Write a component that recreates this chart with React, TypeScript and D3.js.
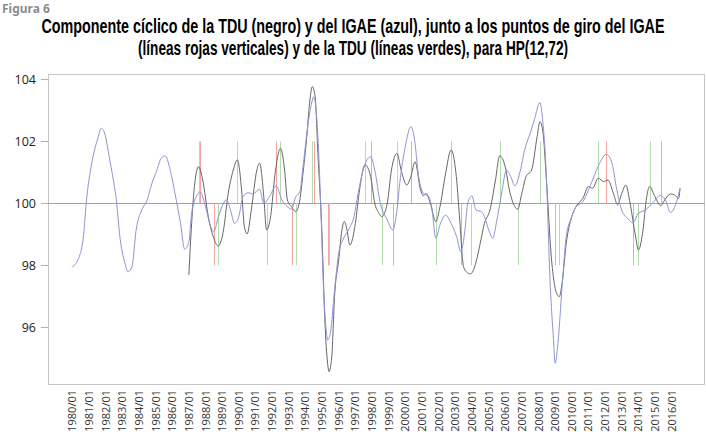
import React, { useEffect, useRef } from "react";
import * as d3 from "d3";

// IGAE cyclical component (blue)
const igaeDates: string[] = [
  "1980-01", "1980-05", "1980-09", "1980-11", "1981-03", "1981-07", "1981-10", "1981-12",
  "1982-04", "1982-06", "1982-09", "1982-11", "1983-03", "1983-05", "1983-08", "1983-11",
  "1984-03", "1984-07", "1984-10", "1985-02", "1985-05", "1985-08", "1985-11", "1986-03",
  "1986-07", "1986-10", "1987-01", "1987-03", "1987-07", "1987-09", "1988-01", "1988-04",
  "1988-07", "1988-10", "1989-02", "1989-04", "1989-07", "1989-10", "1990-01", "1990-04",
  "1990-08", "1990-11", "1991-04", "1991-07", "1991-11", "1992-04", "1992-08", "1992-12",
  "1993-03", "1993-06", "1993-09", "1993-11", "1994-03", "1994-06", "1994-07", "1994-10",
  "1994-12", "1995-02", "1995-04", "1995-05", "1995-07", "1995-10", "1996-01", "1996-04",
  "1996-08", "1996-12", "1997-03", "1997-07", "1997-12", "1998-03", "1998-07", "1998-12",
  "1999-04", "1999-07", "1999-09", "2000-01", "2000-05", "2000-08", "2000-10", "2001-02",
  "2001-06", "2001-08", "2001-11", "2002-02", "2002-06", "2002-10", "2003-02", "2003-05",
  "2003-08", "2003-10", "2004-01", "2004-04", "2004-08", "2004-10", "2005-02", "2005-04",
  "2005-07", "2005-10", "2006-02", "2006-05", "2006-08", "2006-12", "2007-03", "2007-07",
  "2007-10", "2008-02", "2008-04", "2008-07", "2008-09", "2008-12", "2009-01", "2009-03",
  "2009-06", "2009-09", "2010-01", "2010-04", "2010-09", "2011-01", "2011-04", "2011-09",
  "2012-02", "2012-06", "2012-09", "2013-01", "2013-05", "2013-09", "2014-01", "2014-06",
  "2014-11", "2015-05", "2015-09", "2015-12", "2016-04", "2016-07",
];
const igaeValues: number[] = [
  97.95, 98.17, 98.92, 100.0, 101.29, 102.04, 102.42, 102.3,
  101.4, 100.9, 100.0, 99.03, 98.06, 97.79, 97.95, 99.14,
  99.78, 100.11, 100.59, 101.07, 101.45, 101.53, 101.18, 100.32,
  99.35, 98.52, 98.75, 99.68, 100.27, 100.37, 99.89, 99.35,
  99.08, 99.52, 100.0, 100.11, 99.78, 99.35, 99.57, 100.21,
  100.34, 100.3, 100.45, 100.0, 100.21, 100.56, 100.11, 99.89,
  99.81, 100.21, 100.37, 101.07, 102.58, 103.33, 103.44, 102.15,
  100.0, 97.31, 95.91, 95.59, 95.81, 97.2, 98.39, 98.82,
  99.14, 99.57, 100.32, 101.13, 101.5, 101.07, 100.0, 99.46,
  99.14, 99.78, 100.65, 101.83, 102.47, 101.94, 101.07, 100.32,
  100.21, 99.89, 98.87, 99.3, 99.62, 99.35, 98.92, 98.44,
  99.14, 100.0, 100.24, 99.78, 99.73, 99.57, 99.03, 98.87,
  99.46, 100.21, 101.07, 100.86, 100.56, 101.07, 101.72, 102.26,
  102.69, 103.25, 102.69, 100.54, 97.85, 95.48, 94.84, 95.48,
  97.31, 98.92, 99.57, 99.89, 100.05, 100.43, 100.75, 101.29,
  101.58, 101.29, 100.54, 99.78, 99.52, 99.37, 99.68, 99.78,
  100.0, 100.25, 100.05, 99.7, 99.98, 100.48,
];

// TDU cyclical component (black)
const tduDates: string[] = [
  "1987-01", "1987-03", "1987-05", "1987-08", "1987-11", "1988-03", "1988-07", "1988-10",
  "1989-02", "1989-05", "1989-09", "1989-12", "1990-03", "1990-05", "1990-07", "1990-10",
  "1991-02", "1991-04", "1991-07", "1991-09", "1991-12", "1992-03", "1992-07", "1992-10",
  "1992-12", "1993-03", "1993-06", "1993-09", "1993-11", "1994-02", "1994-04", "1994-06",
  "1994-08", "1994-10", "1995-01", "1995-03", "1995-05", "1995-06", "1995-08", "1995-10",
  "1996-01", "1996-03", "1996-05", "1996-07", "1996-09", "1997-01", "1997-04", "1997-08",
  "1997-12", "1998-03", "1998-06", "1998-08", "1998-12", "1999-03", "1999-07", "1999-10",
  "2000-02", "2000-05", "2000-08", "2000-12", "2001-02", "2001-04", "2001-07", "2001-11",
  "2002-02", "2002-06", "2002-10", "2003-02", "2003-04", "2003-07", "2003-09", "2003-12",
  "2004-03", "2004-07", "2004-10", "2005-02", "2005-06", "2005-09", "2006-01", "2006-04",
  "2006-08", "2006-10", "2007-01", "2007-04", "2007-08", "2007-12", "2008-02", "2008-04",
  "2008-07", "2008-10", "2009-02", "2009-04", "2009-06", "2009-09", "2010-01", "2010-04",
  "2010-09", "2011-01", "2011-04", "2011-08", "2011-12", "2012-03", "2012-07", "2012-10",
  "2013-01", "2013-04", "2013-07", "2013-11", "2014-01", "2014-04", "2014-07", "2014-09",
  "2015-01", "2015-05", "2015-08", "2015-12", "2016-03", "2016-06", "2016-07",
];
const tduValues: number[] = [
  97.69, 99.35, 100.54, 101.18, 100.75, 99.57, 98.87, 98.62,
  99.14, 100.21, 101.07, 101.4, 100.43, 99.25, 99.01, 99.78,
  101.07, 101.29, 100.21, 99.14, 99.6, 100.9, 101.77, 101.07,
  100.11, 99.89, 99.73, 100.11, 100.86, 102.15, 103.23, 103.76,
  103.44, 101.61, 98.92, 96.24, 94.84, 94.57, 95.05, 96.99,
  98.17, 99.03, 99.41, 99.14, 98.65, 99.35, 100.43, 101.24,
  100.86, 100.0, 99.68, 99.57, 100.0, 101.07, 101.61, 101.07,
  100.59, 100.86, 101.34, 100.43, 100.24, 100.32, 100.0, 99.41,
  99.89, 100.95, 101.72, 100.75, 99.6, 97.95, 97.79, 97.72,
  97.95, 98.71, 99.35, 99.78, 100.75, 101.53, 101.18, 100.43,
  99.89, 99.81, 100.32, 100.86, 101.07, 102.15, 102.63, 102.36,
  100.54, 98.39, 97.1, 96.99, 97.42, 98.71, 99.57, 99.89,
  100.16, 100.54, 100.48, 100.81, 100.7, 100.75, 100.32, 99.95,
  100.32, 100.59, 100.0, 98.92, 98.49, 99.03, 100.21, 100.54,
  100.21, 99.92, 100.11, 100.3, 100.27, 100.16, 100.48,
];

// turning points
const igaePeaks: string[] = ["1987-09", "1992-04", "1994-07", "1997-12", "2000-05", "2012-02", "2015-05"];
const igaeTroughs: string[] = ["1988-07", "1993-03", "1995-05", "1999-04", "2003-05", "2009-01", "2013-09"];
const tduPeaks: string[] = [
  "1987-08", "1989-12", "1992-07", "1994-06", "1997-08", "1999-07",
  "2002-10", "2005-09", "2008-02", "2011-08", "2014-09",
];
const tduTroughs: string[] = [
  "1988-10", "1991-09", "1993-06", "1995-06", "1998-08", "2001-11",
  "2003-12", "2006-10", "2009-04", "2014-01",
];

const yTicks: number[] = [96, 98, 100, 102, 104];
const xYears: number[] = d3.range(1980, 2017);

const titleLines: string[] = [
  "Componente cíclico de la TDU (negro) y del IGAE (azul), junto a los puntos de giro del IGAE",
  "(líneas rojas verticales) y de la TDU (líneas verdes), para HP(12,72)",
];

const toYear = (s: string) => {
  const [yy, mm] = s.split("-").map(Number);
  return yy + (mm - 1) / 12;
};

const App: React.FC = () => {
  const ref = useRef<SVGSVGElement>(null);

  useEffect(() => {
    if (!ref.current) return;
    const svg = d3.select(ref.current);
    svg.selectAll("*").remove();

    const left = 48, right = 705, top = 74, bottom = 384;
    const x = d3.scaleLinear().domain([1978.54, 2018.0]).range([left, right]);
    const y = d3.scaleLinear().domain([94.17, 104.17]).range([bottom, top]);

    // header
    svg.append("text")
      .attr("x", 2).attr("y", 13)
      .attr("font-family", "'Liberation Sans Narrow', 'Noto Sans', sans-serif")
      .attr("font-weight", "bold").attr("font-size", 12)
      .attr("fill", "#8c8c8c")
      .text("Figura 6");

    // title: narrow bold font, stretched vertically
    const widths = [623, 430];
    titleLines.forEach((t, i) => {
      svg.append("g")
        .attr("transform", `translate(353,${33 + i * 22}) scale(1,1.3)`)
        .append("text")
        .attr("x", 0).attr("y", 0)
        .attr("text-anchor", "middle")
        .attr("font-family", "'Liberation Sans Narrow', sans-serif")
        .attr("font-weight", "bold").attr("font-size", 15)
        .attr("textLength", widths[i]).attr("lengthAdjust", "spacingAndGlyphs")
        .attr("fill", "#000")
        .text(t);
    });

    // frame
    svg.append("rect")
      .attr("x", left + 0.5).attr("y", top + 0.5)
      .attr("width", right - left - 1).attr("height", bottom - top)
      .attr("fill", "none").attr("stroke", "#c6c6c6");

    // y axis
    const ya = svg.append("g");
    yTicks.forEach((v) => {
      ya.append("line")
        .attr("x1", 41).attr("x2", left)
        .attr("y1", Math.round(y(v)) + 0.5).attr("y2", Math.round(y(v)) + 0.5)
        .attr("stroke", "#b0b0b0");
      ya.append("text")
        .attr("x", 36).attr("y", y(v))
        .attr("dy", "0.35em").attr("text-anchor", "end")
        .attr("font-family", "'Open Sans', sans-serif").attr("font-size", 12.5)
        .attr("fill", "#222")
        .text(v);
    });

    // x labels
    xYears.forEach((yr) => {
      svg.append("text")
        .attr("transform", `translate(${x(yr) + 4},390) rotate(-90)`)
        .attr("text-anchor", "end")
        .attr("font-family", "'Open Sans', sans-serif").attr("font-size", 11)
        .attr("fill", "#333")
        .text(`${yr}/01`);
    });

    // zero line
    svg.append("line")
      .attr("x1", left).attr("x2", right)
      .attr("y1", Math.round(y(100)) + 0.5).attr("y2", Math.round(y(100)) + 0.5)
      .attr("stroke", "#a0a0a0");

    // turning points
    const marks = (dates: string[], to: number, color: string) => {
      svg.append("g").selectAll("line").data(dates).enter().append("line")
        .attr("x1", (d) => Math.round(x(toYear(d))) + 0.5)
        .attr("x2", (d) => Math.round(x(toYear(d))) + 0.5)
        .attr("y1", y(100)).attr("y2", y(to))
        .attr("stroke", color).attr("stroke-width", 1);
    };
    marks(tduPeaks, 102, "#b5dcae");
    marks(tduTroughs, 98, "#b5dcae");
    marks(igaePeaks, 102, "#f5a3a3");
    marks(igaeTroughs, 98, "#f5a3a3");

    const line = d3.line<[number, number]>()
      .x((d) => x(d[0])).y((d) => y(d[1]))
      .curve(d3.curveMonotoneX);

    const tdu: [number, number][] = tduDates.map((d, i) => [toYear(d), tduValues[i]]);
    const igae: [number, number][] = igaeDates.map((d, i) => [toYear(d), igaeValues[i]]);

    svg.append("path").attr("d", line(tdu) || "")
      .attr("fill", "none").attr("stroke", "#666").attr("stroke-width", 1);
    svg.append("path").attr("d", line(igae) || "")
      .attr("fill", "none").attr("stroke", "#8d95d4").attr("stroke-width", 1);
  }, []);

  return (
    <svg
      ref={ref}
      width={706}
      height={432}
      style={{ position: "absolute", left: 0, top: 0, background: "#fff" }}
    />
  );
};

export default App;
